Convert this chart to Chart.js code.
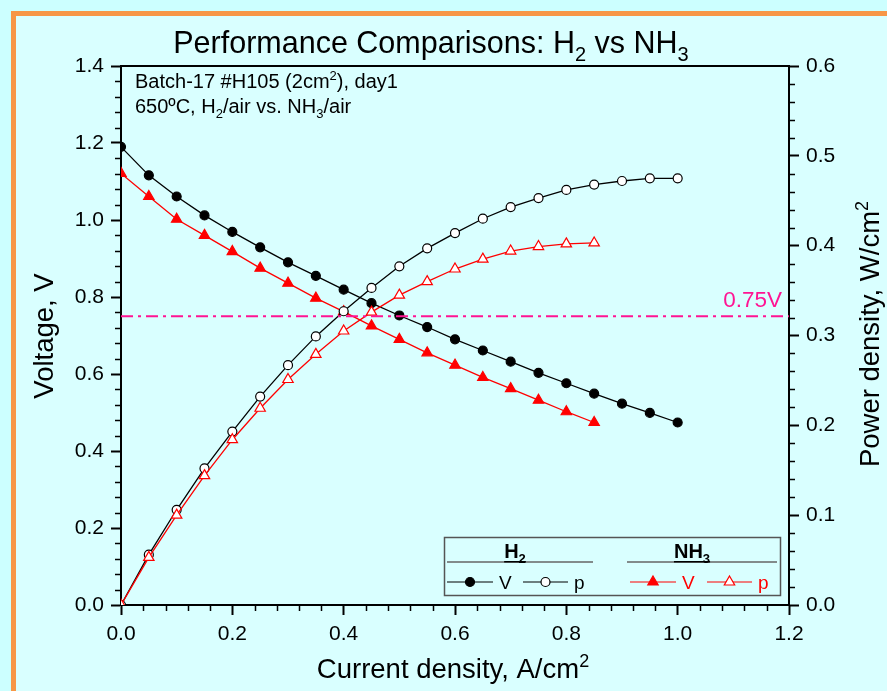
<!DOCTYPE html>
<html>
<head>
<meta charset="utf-8">
<title>Performance Comparisons</title>
<script src="https://cdn.jsdelivr.net/npm/chart.js@4.4.0/dist/chart.umd.min.js"></script>
<style>
    body { margin: 0; background: #ccffff; }
    #marco { position: absolute; left: 11px; top: 11px; width: 900px; height: 700px;
             border-left: 5px solid #f79646; border-top: 5px solid #f79646; background: #d9ffff; }
    #grafico { position: absolute; left: 0; top: 0; }
</style>
</head>
<body>
<div id="marco"></div>
<canvas id="grafico" width="887" height="691"></canvas>
<script>
// Densidad de corriente (A/cm2), común a ambas series.
const corriente = [0, 0.05, 0.10, 0.15, 0.20, 0.25, 0.30, 0.35, 0.40, 0.45, 0.50,
    0.55, 0.60, 0.65, 0.70, 0.75, 0.80, 0.85, 0.90, 0.95, 1.00];
// Voltaje y densidad de potencia con H2.
const voltajeH2 = [1.190, 1.116, 1.061, 1.012, 0.969, 0.929, 0.890, 0.855, 0.819, 0.784, 0.752,
    0.722, 0.690, 0.661, 0.632, 0.603, 0.576, 0.549, 0.523, 0.499, 0.474];
const potenciaH2 = [0, 0.056, 0.106, 0.152, 0.193, 0.232, 0.267, 0.299, 0.327, 0.353, 0.377,
    0.397, 0.414, 0.430, 0.443, 0.453, 0.462, 0.468, 0.472, 0.475, 0.475];
// Voltaje y densidad de potencia con NH3 (hasta 0.85 A/cm2).
const voltajeNH3 = [1.121, 1.061, 1.002, 0.960, 0.918, 0.875, 0.836, 0.797, 0.762, 0.725, 0.690,
    0.655, 0.623, 0.591, 0.562, 0.532, 0.502, 0.474];
const potenciaNH3 = [0, 0.053, 0.100, 0.144, 0.184, 0.219, 0.251, 0.279, 0.305, 0.326, 0.345,
    0.360, 0.374, 0.385, 0.394, 0.399, 0.402, 0.403];
// Línea de referencia.
const voltajeRef = 0.75;
// Límites y pasos de los ejes.
const ejeX = { min: 0, max: 1.2, paso: 0.2, menor: 0.04 };
const ejeV = { min: 0, max: 1.4, paso: 0.2, menor: 0.04 };
const ejeP = { min: 0, max: 0.6, paso: 0.1, menor: 0.02 };

const FUENTE = '"Liberation Sans", Arial, sans-serif';
const ROSA = '#ff1493';

const puntos = (xs, ys) => ys.map((y, i) => ({ x: xs[i], y: y }));

/*
*   Función para dibujar texto con subíndices y superíndices.
*   Parámetros: ctx, partes ([texto, tipo]), x, y (línea base), tamaño, alineación.
*/
const textoRico = (ctx, partes, x, y, size, align = 'left', peso = '') => {
    const medir = (p) => {
        ctx.font = `${peso} ${p[1] ? Math.round(size * 0.65) : size}px ${FUENTE}`;
        return ctx.measureText(p[0]).width;
    };
    const total = partes.reduce((s, p) => s + medir(p), 0);
    let cx = align === 'center' ? x - total / 2 : (align === 'right' ? x - total : x);
    ctx.textAlign = 'left';
    ctx.textBaseline = 'alphabetic';
    partes.forEach(p => {
        const w = medir(p);
        const dy = p[1] === 'sub' ? size * 0.25 : (p[1] === 'sup' ? -size * 0.4 : 0);
        ctx.fillText(p[0], cx, y + dy);
        cx += w;
    });
    return total;
};

// Marcadores para la leyenda.
const marcador = (ctx, tipo, x, y, color, relleno) => {
    ctx.beginPath();
    if (tipo === 'circle') {
        ctx.arc(x, y, 4.5, 0, Math.PI * 2);
    } else {
        const r = 6;
        ctx.moveTo(x, y - r);
        ctx.lineTo(x + r * 0.866, y + r * 0.5);
        ctx.lineTo(x - r * 0.866, y + r * 0.5);
        ctx.closePath();
    }
    ctx.fillStyle = relleno;
    ctx.fill();
    ctx.strokeStyle = color;
    ctx.lineWidth = 1.2;
    ctx.stroke();
};

const decoraciones = {
    id: 'decoraciones',
    afterDraw(chart) {
        const ctx = chart.ctx;
        const area = chart.chartArea;
        const sx = chart.scales.x, sy = chart.scales.y, sp = chart.scales.y2;
        ctx.save();
        // Borde superior del área.
        ctx.strokeStyle = '#000';
        ctx.lineWidth = 2;
        ctx.beginPath();
        ctx.moveTo(area.left - 1, area.top);
        ctx.lineTo(area.right + 1, area.top);
        ctx.stroke();
        // Marcas menores.
        ctx.lineWidth = 1.5;
        ctx.beginPath();
        for (let i = 0; i <= Math.round(ejeX.max / ejeX.menor); i++) {
            if (i % 5 === 0) continue;
            const px = Math.round(sx.getPixelForValue(i * ejeX.menor)) + 0.5;
            ctx.moveTo(px, area.bottom);
            ctx.lineTo(px, area.bottom + 6);
        }
        for (let i = 0; i <= Math.round(ejeV.max / ejeV.menor); i++) {
            if (i % 5 === 0) continue;
            const py = Math.round(sy.getPixelForValue(i * ejeV.menor)) + 0.5;
            ctx.moveTo(area.left, py);
            ctx.lineTo(area.left - 6, py);
        }
        for (let i = 0; i <= Math.round(ejeP.max / ejeP.menor); i++) {
            if (i % 5 === 0) continue;
            const py = Math.round(sp.getPixelForValue(i * ejeP.menor)) + 0.5;
            ctx.moveTo(area.right, py);
            ctx.lineTo(area.right + 6, py);
        }
        ctx.stroke();

        ctx.fillStyle = '#000';
        // Título.
        textoRico(ctx, [['Performance Comparisons: H'], ['2', 'sub'], [' vs NH'], ['3', 'sub']], 431, 53, 30.5, 'center');
        // Notas.
        textoRico(ctx, [['Batch-17 #H105 (2cm'], ['2', 'sup'], ['), day1']], 135, 88, 20);
        textoRico(ctx, [['650ºC, H'], ['2', 'sub'], ['/air vs. NH'], ['3', 'sub'], ['/air']], 135, 113, 20);
        // Títulos de ejes.
        textoRico(ctx, [['Current density, A/cm'], ['2', 'sup']], 453, 678, 27.5, 'center');
        ctx.save();
        ctx.translate(53, 336);
        ctx.rotate(-Math.PI / 2);
        textoRico(ctx, [['Voltage, V']], 0, 0, 27.5, 'center');
        ctx.restore();
        ctx.save();
        ctx.translate(879, 334);
        ctx.rotate(-Math.PI / 2);
        textoRico(ctx, [['Power density, W/cm'], ['2', 'sup']], 0, 0, 27.5, 'center');
        ctx.restore();
        // Etiqueta de la línea de referencia.
        ctx.fillStyle = ROSA;
        textoRico(ctx, [['0.75V']], 782, sy.getPixelForValue(voltajeRef) - 9, 22.5, 'right');

        // Leyenda.
        ctx.strokeStyle = '#555';
        ctx.lineWidth = 1.5;
        ctx.strokeRect(444.5, 537.5, 336, 58);
        ctx.strokeStyle = '#666';
        ctx.beginPath();
        ctx.moveTo(447, 562); ctx.lineTo(593, 562);
        ctx.moveTo(627, 562); ctx.lineTo(777, 562);
        ctx.stroke();
        ctx.fillStyle = '#000';
        let w = textoRico(ctx, [['H', ''], ['2', 'sub']], 515, 558, 20, 'center', 'bold');
        ctx.fillRect(515 - w / 2, 561, w, 1.5);
        w = textoRico(ctx, [['NH', ''], ['3', 'sub']], 692, 558, 20, 'center', 'bold');
        ctx.fillRect(692 - w / 2, 561, w, 1.5);
        const filas = [
            { x1: 447, x2: 493, tipo: 'circle', color: '#000', relleno: '#000', txt: 'V' },
            { x1: 523, x2: 568, tipo: 'circle', color: '#000', relleno: '#fff', txt: 'p' },
            { x1: 630, x2: 676, tipo: 'triangle', color: '#ff0000', relleno: '#ff0000', txt: 'V' },
            { x1: 707, x2: 752, tipo: 'triangle', color: '#ff0000', relleno: '#fff', txt: 'p' }
        ];
        filas.forEach(f => {
            ctx.strokeStyle = f.color;
            ctx.lineWidth = 1.2;
            ctx.beginPath();
            ctx.moveTo(f.x1, 582); ctx.lineTo(f.x2, 582);
            ctx.stroke();
            marcador(ctx, f.tipo, (f.x1 + f.x2) / 2, 582, f.color, f.relleno);
            ctx.fillStyle = f.color;
            textoRico(ctx, [[f.txt]], f.x2 + 6, 589, 19);
        });
        ctx.restore();
    }
};

const serie = (datos, eje, color, estilo, relleno, radio) => ({
    data: datos,
    yAxisID: eje,
    borderColor: color,
    borderWidth: 1.3,
    pointStyle: estilo,
    pointRadius: radio,
    pointBackgroundColor: relleno,
    pointBorderColor: color,
    pointBorderWidth: 1.2,
    showLine: true,
    tension: 0
});

const ticksEje = (paso) => ({
    stepSize: paso,
    color: '#000',
    padding: 7,
    font: { family: FUENTE, size: 21 },
    callback: (v) => v.toFixed(1)
});
const rejilla = { drawOnChartArea: false, tickLength: 10, tickWidth: 2, tickColor: '#000' };

new Chart(document.getElementById('grafico'), {
    type: 'line',
    data: {
        datasets: [
            {
                data: [{ x: ejeX.min, y: voltajeRef }, { x: ejeX.max, y: voltajeRef }],
                yAxisID: 'y', borderColor: ROSA, borderWidth: 2, borderDash: [12, 5, 3, 5],
                pointRadius: 0
            },
            serie(puntos(corriente, potenciaNH3), 'y2', '#ff0000', 'triangle', '#ffffff', 6),
            serie(puntos(corriente, potenciaH2), 'y2', '#000000', 'circle', '#ffffff', 4.5),
            serie(puntos(corriente, voltajeNH3), 'y', '#ff0000', 'triangle', '#ff0000', 6),
            serie(puntos(corriente, voltajeH2), 'y', '#000000', 'circle', '#000000', 4.5)
        ]
    },
    options: {
        responsive: false,
        animation: false,
        devicePixelRatio: 1,
        layout: { padding: { top: 66, left: 0, right: 0, bottom: 0 } },
        plugins: { legend: { display: false }, tooltip: { enabled: false } },
        scales: {
            x: {
                type: 'linear', min: ejeX.min, max: ejeX.max,
                ticks: ticksEje(ejeX.paso),
                grid: rejilla,
                border: { color: '#000', width: 2 },
                afterFit: (s) => { s.height = 86; }
            },
            y: {
                type: 'linear', position: 'left', min: ejeV.min, max: ejeV.max,
                ticks: ticksEje(ejeV.paso),
                grid: rejilla,
                border: { color: '#000', width: 2 },
                afterFit: (s) => { s.width = 121; }
            },
            y2: {
                type: 'linear', position: 'right', min: ejeP.min, max: ejeP.max,
                ticks: ticksEje(ejeP.paso),
                grid: rejilla,
                border: { color: '#000', width: 2 },
                afterFit: (s) => { s.width = 98; }
            }
        }
    },
    plugins: [decoraciones]
});
</script>
</body>
</html>
